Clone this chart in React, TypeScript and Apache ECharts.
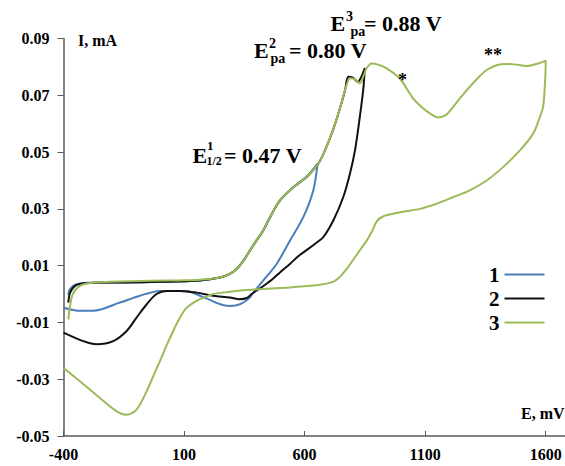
import React, { useEffect, useRef } from "react";
import * as echarts from "echarts";

// Tick values
const xTicks = [-400, 100, 600, 1100, 1600];
const yTicks = [-0.05, -0.03, -0.01, 0.01, 0.03, 0.05, 0.07, 0.09];

// Curve 1 (blue) : potential (mV) and current (mA)
const potential1 = [-380, -373, -345, -276, -138, 0, 166, 249, 290, 318, 345, 373, 400, 428, 460, 497, 553, 609, 654,
  636, 594, 539, 484, 428, 387, 373, 332, 290, 249, 200, 166, 111, 0, -83, -166, -276, -332, -400];
const current1 = [-0.0003, 0.0018, 0.0035, 0.0041, 0.0041, 0.0043, 0.0048, 0.0058, 0.0071, 0.0088, 0.0116, 0.0153, 0.0188, 0.0223, 0.0276, 0.0329, 0.0376, 0.0413, 0.0459,
  0.0365, 0.027, 0.0188, 0.0106, 0.0047, 0.0005, -0.0012, -0.0036, -0.0042, -0.0036, -0.0018, -0.0006, 0.0011, 0.0011, -0.0006, -0.003, -0.0059, -0.0059, -0.0048];

// Curve 2 (black)
const potential2 = [-380, -373, -352, -311, -138, 0, 166, 249, 290, 318, 345, 373, 400, 428, 460, 497, 553, 609, 656, 685, 718, 747, 768, 781, 800, 821, 835, 850,
  843, 829, 809, 788, 760, 719, 677, 645, 614, 575, 539, 500, 469, 435, 406, 380, 360, 330, 290, 221, 152, 83, 28, -14, -55, -97, -138, -194, -262, -318, -400];
const current2 = [-0.003, 0.0004, 0.0029, 0.0038, 0.0041, 0.0043, 0.0048, 0.0058, 0.0071, 0.0088, 0.0116, 0.0153, 0.0188, 0.0223, 0.0276, 0.0329, 0.0376, 0.0413, 0.0458, 0.0507, 0.0578, 0.0655, 0.0719, 0.0765, 0.0762, 0.0747, 0.0765, 0.0796,
  0.0718, 0.0624, 0.0506, 0.0424, 0.0341, 0.0259, 0.02, 0.0178, 0.0158, 0.0134, 0.0106, 0.0078, 0.0054, 0.0032, 0.0015, 0.0, -0.0014, -0.0018, -0.0012, -0.0006, 0.0005, 0.0011, 0.0011, 0.0, -0.0036, -0.0083, -0.013, -0.0166, -0.0177, -0.0166, -0.0136];

// Curve 3 (green)
const potential3 = [-380, -373, -361, -332, -290, -207, -41, 83, 166, 249, 290, 318, 345, 373, 400, 428, 460, 497, 553, 609, 656, 685, 718, 747, 768, 789, 810, 829, 845, 857, 878, 905, 940, 995, 1050, 1090, 1120, 1154, 1185, 1216, 1250, 1285, 1320, 1355, 1396, 1437, 1480, 1520, 1562, 1600,
  1598, 1589, 1570, 1548, 1493, 1423, 1355, 1285, 1216, 1147, 1078, 1010, 967, 925, 900, 884, 859, 830, 801, 775, 747, 718, 664, 560, 497, 430, 360, 290, 221, 190, 152, 111, 83, 55, 28, 0, -28, -55, -97, -138, -179, -249, -332, -400];
const current3 = [-0.0089, -0.0042, 0.0001, 0.0029, 0.0039, 0.0043, 0.0047, 0.0048, 0.005, 0.0058, 0.0071, 0.0088, 0.0116, 0.0153, 0.0188, 0.0223, 0.0276, 0.0329, 0.0376, 0.0413, 0.0458, 0.0507, 0.0578, 0.0655, 0.0719, 0.076, 0.0756, 0.0742, 0.077, 0.0795, 0.0812, 0.0808, 0.0795, 0.0759, 0.0689, 0.0655, 0.0636, 0.0622, 0.063, 0.0659, 0.0695, 0.073, 0.0762, 0.0789, 0.0806, 0.081, 0.0808, 0.0803, 0.081, 0.0822,
  0.076, 0.0659, 0.061, 0.0565, 0.0506, 0.0447, 0.04, 0.0365, 0.0341, 0.0318, 0.03, 0.029, 0.0283, 0.0273, 0.0257, 0.0229, 0.019, 0.0155, 0.012, 0.0089, 0.0061, 0.0043, 0.0033, 0.0025, 0.0021, 0.0018, 0.0014, 0.0008, 0.0, -0.001, -0.0024, -0.0048, -0.0083, -0.013, -0.018, -0.0236, -0.029, -0.0342, -0.0407, -0.0425, -0.0413, -0.0366, -0.0307, -0.026];

const seriesNames = ["1", "2", "3"];
const seriesColors = ["#4a7ebb", "#111111", "#9bbb59"];

const FONT = '"Liberation Serif", "Times New Roman", serif';

function zip(xs: number[], ys: number[]) {
  return xs.map((x, i) => [x, ys[i]]);
}

function txt(text: string, x: number, y: number, size: number) {
  return {
    type: "text",
    x,
    y,
    z: 100,
    style: {
      text,
      font: `bold ${size}px ${FONT}`,
      fill: "#000",
      align: "left",
      verticalAlign: "middle",
    },
  };
}

export default function App() {
  const ref = useRef<HTMLDivElement>(null);
  useEffect(() => {
    if (!ref.current) return;
    const chart = echarts.init(ref.current, undefined, { renderer: "svg" });
    const data = [zip(potential1, current1), zip(potential2, current2), zip(potential3, current3)];
    chart.setOption({
      animation: false,
      backgroundColor: "#ffffff",
      grid: { left: 63.5, right: 0, top: 38.5, bottom: 30, containLabel: false },
      legend: {
        data: seriesNames,
        orient: "vertical",
        left: 484,
        top: 259,
        align: "right",
        icon: "rect",
        itemWidth: 40,
        itemHeight: 2,
        itemGap: 3,
        textStyle: { fontFamily: FONT, fontWeight: "bold", fontSize: 21, color: "#000" },
      },
      xAxis: {
        type: "value",
        min: -400,
        max: 1680,
        splitLine: { show: false },
        axisLine: { show: true, onZero: false, lineStyle: { color: "#595959", width: 1.5 } },
        axisTick: { show: true, inside: true, length: 5, customValues: xTicks, lineStyle: { color: "#595959" } },
        axisLabel: {
          customValues: xTicks,
          margin: 10,
          fontFamily: FONT,
          fontWeight: "bold",
          fontSize: 16,
          color: "#000",
          formatter: (v: number) => String(v),
        },
      },
      yAxis: {
        type: "value",
        min: -0.05,
        max: 0.09,
        splitLine: { show: false },
        axisLine: { show: true, onZero: false, lineStyle: { color: "#595959", width: 1.5 } },
        axisTick: { show: true, inside: false, length: 6, customValues: yTicks, lineStyle: { color: "#595959" } },
        axisLabel: {
          customValues: yTicks,
          margin: 14,
          fontFamily: FONT,
          fontWeight: "bold",
          fontSize: 16,
          color: "#000",
          formatter: (v: number) => v.toFixed(2),
        },
      },
      series: seriesNames.map((name, i) => ({
        name,
        type: "line",
        data: data[i],
        showSymbol: false,
        smooth: 0.3,
        color: seriesColors[i],
        lineStyle: { color: seriesColors[i], width: 2 },
      })),
      graphic: [
        txt("I, mA", 78, 40, 16),
        txt("E, mV", 521, 413, 16),
        // E3pa = 0.88 V
        txt("E", 330.5, 23, 22),
        txt("3", 346, 16, 14),
        txt("pa", 350.5, 31, 14),
        txt("= 0.88 V", 364, 23, 22),
        // E2pa = 0.80 V
        txt("E", 254, 50.5, 22),
        txt("2", 269, 43, 14),
        txt("pa", 270.5, 58, 14),
        txt("= 0.80 V", 289, 50.5, 22),
        // E1/2 = 0.47 V
        txt("E", 192.5, 155.5, 22),
        txt("1", 207, 145, 13),
        txt("1/2", 206.5, 161, 12),
        txt("= 0.47 V", 224, 155.5, 22),
        txt("*", 398, 80, 18),
        txt("**", 484, 55, 18),
      ],
    });
    return () => chart.dispose();
  }, []);
  return (
    <div
      ref={ref}
      style={{ position: "fixed", left: 0, top: 0, width: 565, height: 466, background: "#fff" }}
    />
  );
}
